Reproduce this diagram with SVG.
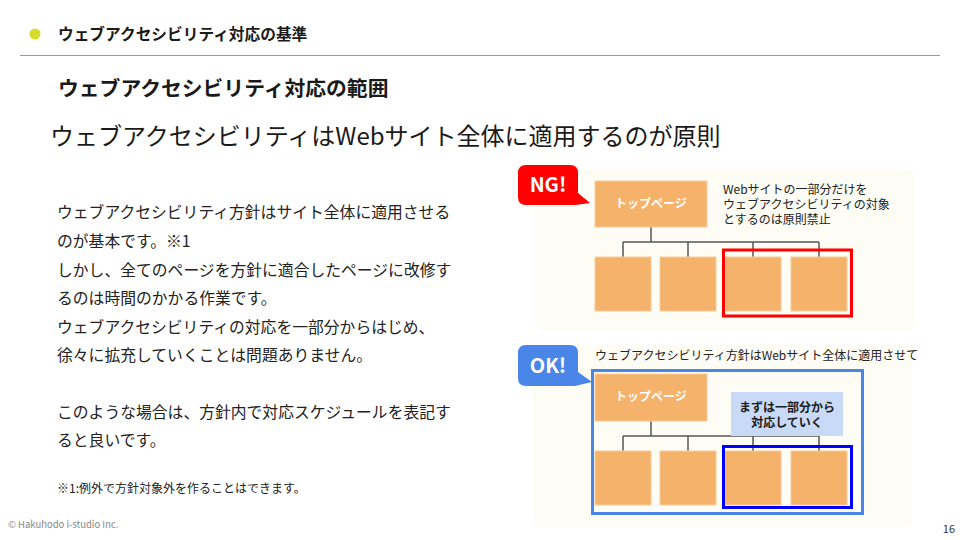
<svg xmlns="http://www.w3.org/2000/svg" width="960" height="540" viewBox="0 0 960 540">
<style>
text{font-family:"Noto Sans CJK JP","Noto Sans",sans-serif;}
.hd{font-size:15.7px;font-weight:bold;fill:#1a1a1a;}
.sub{font-size:20.8px;font-weight:bold;fill:#1a1a1a;}
.ttl{font-size:24px;fill:#1a1a1a;}
.body{font-size:15.8px;fill:#222;}
.sm{font-size:12px;fill:#222;}
.panel{fill:#fdfcf5;}
.pg{fill:#f5b26b;stroke:#f8cc9c;stroke-width:1;}
.pgt{font-size:12px;font-weight:bold;fill:#fff;}
.conn{stroke:#555;stroke-width:1.5;fill:none;}
.bub{font-size:20px;font-weight:bold;fill:#fff;}
</style>
<rect width="960" height="540" fill="#fff"/>
<!-- header -->
<circle cx="35" cy="34" r="5.5" fill="#d6dc2c"/>
<text class="hd" x="58" y="40">ウェブアクセシビリティ対応の基準</text>
<line x1="20" y1="55.5" x2="940" y2="55.5" stroke="#999" stroke-width="1"/>
<text class="sub" x="58" y="96">ウェブアクセシビリティ対応の範囲</text>
<text class="ttl" x="50" y="145">ウェブアクセシビリティはWebサイト全体に適用するのが原則</text>
<!-- body -->
<g id="body-text">
<text class="body" x="57" y="218">ウェブアクセシビリティ方針はサイト全体に適用させる</text>
<text class="body" x="57" y="247">のが基本です。※1</text>
<text class="body" x="57" y="276">しかし、全てのページを方針に適合したページに改修す</text>
<text class="body" x="57" y="304">るのは時間のかかる作業です。</text>
<text class="body" x="57" y="333">ウェブアクセシビリティの対応を一部分からはじめ、</text>
<text class="body" x="57" y="361">徐々に拡充していくことは問題ありません。</text>
<text class="body" x="57" y="418">このような場合は、方針内で対応スケジュールを表記す</text>
<text class="body" x="57" y="446">ると良いです。</text>
<text x="57" y="493" font-size="12" fill="#222">※1:例外で方針対象外を作ることはできます。</text>
</g>
<text x="8" y="528" font-size="9.5" fill="#888">© Hakuhodo i-studio Inc.</text>
<text x="955" y="533" font-size="11" fill="#333" text-anchor="end">16</text>

<!-- NG panel -->
<g id="ng-panel">
<rect class="panel" x="535" y="170" width="380" height="160" rx="8"/>
</g>
<g id="ng-connectors">
<path class="conn" d="M651 227V242M623 242H819M623 242V257M688 242V257M753 242V257M819 242V257"/>
</g>
<g id="ng-top"><rect class="pg" x="595" y="181" width="112" height="46"/><text class="pgt" x="651" y="208" text-anchor="middle">トップページ</text></g>
<g id="ng-p1"><rect class="pg" x="595" y="257" width="56" height="54"/></g>
<g id="ng-p2"><rect class="pg" x="660" y="257" width="56" height="54"/></g>
<g id="ng-p3"><rect class="pg" x="725" y="257" width="56" height="54"/></g>
<g id="ng-p4"><rect class="pg" x="791" y="257" width="56" height="54"/></g>
<g id="ng-highlight"><rect x="723.5" y="250" width="128" height="66" fill="none" stroke="#ff0000" stroke-width="3"/></g>
<g id="ng-note">
<text class="sm" x="723" y="194">Webサイトの一部分だけを</text>
<text class="sm" x="723" y="209">ウェブアクセシビリティの対象</text>
<text class="sm" x="723" y="224">とするのは原則禁止</text>
</g>
<g id="ng-bubble">
<path d="M526 165H570Q578 165 578 173V193L590 203L575 205H526Q518 205 518 197V173Q518 165 526 165Z" fill="#ff0000"/>
<text class="bub" x="548" y="192" text-anchor="middle">NG!</text>
</g>

<!-- OK panel -->
<g id="ok-panel">
<rect class="panel" x="533" y="345" width="379" height="182" rx="8"/>
</g>
<g id="ok-caption"><text class="sm" x="595" y="360">ウェブアクセシビリティ方針はWebサイト全体に適用させて</text></g>
<g id="ok-frame"><rect x="592.5" y="370.5" width="270" height="143" fill="none" stroke="#4a86e8" stroke-width="3"/></g>
<g id="ok-connectors">
<path class="conn" d="M651 421V436M623 436H819M623 436V451M688 436V451M753 436V451M819 436V451"/>
</g>
<g id="ok-top"><rect class="pg" x="595" y="374" width="112" height="47"/><text class="pgt" x="651" y="401" text-anchor="middle">トップページ</text></g>
<g id="ok-note"><rect x="731" y="392" width="112" height="44" fill="#c9daf8"/>
<text x="787" y="412" font-size="12" font-weight="bold" fill="#1a1a1a" text-anchor="middle">まずは一部分から</text>
<text x="787" y="427" font-size="12" font-weight="bold" fill="#1a1a1a" text-anchor="middle">対応していく</text></g>
<g id="ok-p1"><rect class="pg" x="595" y="451" width="56" height="54"/></g>
<g id="ok-p2"><rect class="pg" x="660" y="451" width="56" height="54"/></g>
<g id="ok-p3"><rect class="pg" x="725" y="451" width="56" height="54"/></g>
<g id="ok-p4"><rect class="pg" x="791" y="451" width="56" height="54"/></g>
<g id="ok-highlight"><rect x="723.5" y="446.5" width="128" height="61" fill="none" stroke="#0000ff" stroke-width="3"/></g>
<g id="ok-bubble">
<path d="M526 345H570Q578 345 578 353V372L592 382L575 386H526Q518 386 518 378V353Q518 345 526 345Z" fill="#4a86e8"/>
<text class="bub" x="548" y="373" text-anchor="middle">OK!</text>
</g>
</svg>
